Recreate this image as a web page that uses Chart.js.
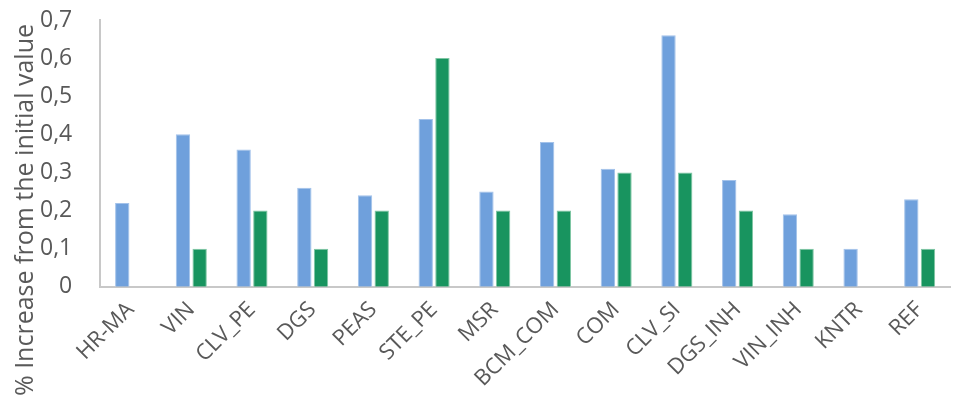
<!DOCTYPE html>
<html>
<head>
<meta charset="utf-8">
<script src="https://cdn.jsdelivr.net/npm/chart.js@4.4.1/dist/chart.umd.min.js"></script>
<style>
  html, body { margin: 0; padding: 0; background: #fff; }
  #wrap { width: 953px; height: 401px; }
</style>
</head>
<body>
<div id="wrap"><canvas id="chart"></canvas></div>
<script>
  const categories = ['HR-MA', 'VIN', 'CLV_PE', 'DGS', 'PEAS', 'STE_PE', 'MSR', 'BCM_COM', 'COM', 'CLV_SI', 'DGS_INH', 'VIN_INH', 'KNTR', 'REF'];
  const seriesA = [0.22, 0.40, 0.36, 0.26, 0.24, 0.44, 0.25, 0.38, 0.31, 0.66, 0.28, 0.19, 0.10, 0.23];
  const seriesB = [null, 0.10, 0.20, 0.10, 0.20, 0.60, 0.20, 0.20, 0.30, 0.30, 0.20, 0.10, null, 0.10];
  const yTickLabels = ['0', '0,1', '0,2', '0,3', '0,4', '0,5', '0,6', '0,7'];
  const yTitle = '% Increase from the initial value';

  const textColor = '#595959';
  const fontFamily = "'Open Sans', 'Noto Sans', sans-serif";

  // y title drawn by hand: in the original it sits lower than the plot centre
  const yTitlePlugin = {
    id: 'yTitle',
    afterDraw(chart) {
      const c = chart.ctx;
      c.save();
      c.translate(33, 210);
      c.rotate(-Math.PI / 2);
      c.font = '25px ' + fontFamily;
      c.fillStyle = textColor;
      c.textAlign = 'center';
      c.textBaseline = 'alphabetic';
      c.fillText(yTitle, 0, 0);
      c.restore();
    }
  };

  new Chart(document.getElementById('chart'), {
    type: 'bar',
    data: {
      labels: categories,
      datasets: [{
        label: 'A',
        data: seriesA,
        backgroundColor: '#6fa0dc',
        borderColor: '#a3c2ea',
        borderWidth: 1
      }, {
        label: 'B',
        data: seriesB,
        backgroundColor: '#18945f',
        borderColor: '#7ec6a3',
        borderWidth: 1
      }]
    },
    options: {
      responsive: true,
      maintainAspectRatio: false,
      animation: false,
      layout: { padding: { left: 20, top: 0, right: 3, bottom: 7 } },
      datasets: {
        bar: { categoryPercentage: 0.55, barPercentage: 0.86 }
      },
      plugins: {
        legend: { display: false },
        tooltip: { enabled: false }
      },
      scales: {
        x: {
          grid: { display: false },
          border: { display: true, color: '#c8c8c8', width: 2 },
          ticks: {
            color: textColor,
            font: { family: fontFamily, size: 22 },
            minRotation: 45,
            maxRotation: 45,
            padding: 2
          }
        },
        y: {
          min: 0,
          max: 0.7,
          grid: { display: false },
          border: { display: true, color: '#c8c8c8', width: 2 },
          ticks: {
            stepSize: 0.1,
            color: textColor,
            font: { family: fontFamily, size: 23 },
            padding: 20,
            callback: (v, i) => yTickLabels[i]
          },
          // tick padding would otherwise push the plot top down
          afterFit: (scale) => { scale.paddingTop = 20; }
        }
      }
    },
    plugins: [yTitlePlugin]
  });
</script>
</body>
</html>
